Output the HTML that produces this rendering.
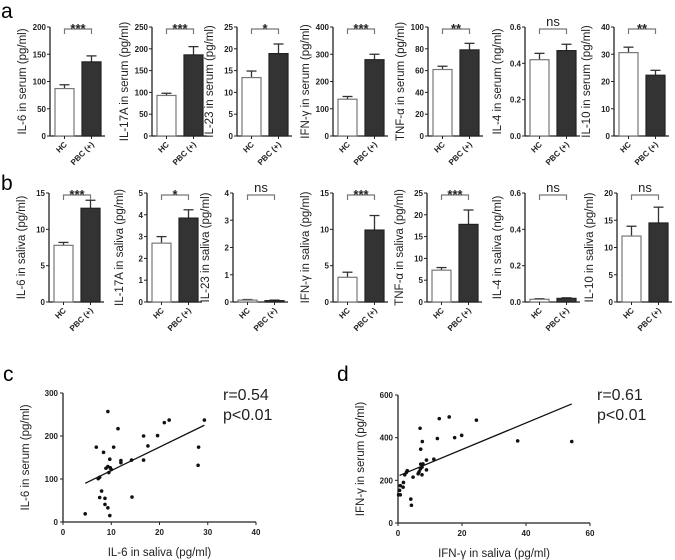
<!DOCTYPE html>
<html><head><meta charset="utf-8">
<style>
html,body{margin:0;padding:0;background:#fff;}
svg{display:block;font-family:"Liberation Sans",Arial,sans-serif;}
.tk{font-size:8px;font-weight:bold;fill:#222;}
.ttl{font-size:11.5px;fill:#222;}
</style></head>
<body>
<svg id="fig" width="675" height="560" viewBox="0 0 675 560">
<text x="1" y="18" font-size="21">a</text>
<text x="1" y="190" font-size="21">b</text>
<text x="3" y="381" font-size="21">c</text>
<text x="337" y="381" font-size="21">d</text>
</svg>
<script>
// ---- bar chart data ----
const groups = ["HC","PBC (+)"];
const serumTitles = ["IL-6 in serum (pg/ml)","IL-17A in serum (pg/ml)","IL-23 in serum (pg/ml)","IFN-γ in serum (pg/ml)","TNF-α in serum (pg/ml)","IL-4 in serum (ng/ml)","IL-10 in serum (pg/ml)"];
const serumMeans = [[87,136],[93,186],[13.4,18.9],[135,280],[61,79],[0.42,0.47],[30.6,22.3]];
const serumErrs = [[7,11],[5,19],[1.5,2.2],[10,20],[3,6],[0.035,0.035],[2,1.8]];
const serumMax = [200,250,25,400,100,0.6,40];
const serumStep = [50,50,5,100,20,0.2,10];
const serumSig = ["***","***","*","***","**","ns","**"];
const salivaTitles = ["IL-6 in saliva (pg/ml)","IL-17A in saliva (pg/ml)","IL-23 in saliva (pg/ml)","IFN-γ in saliva (pg/ml)","TNF-α in saliva (pg/ml)","IL-4 in saliva (ng/ml)","IL-10 in saliva (pg/ml)"];
const salivaMeans = [[7.8,12.9],[2.7,3.85],[0.07,0.05],[3.4,9.9],[7.3,17.8],[0.015,0.02],[12.1,14.5]];
const salivaErrs = [[0.4,1.1],[0.3,0.38],[0.02,0.02],[0.7,2],[0.6,3.3],[0.003,0.003],[1.8,2.9]];
const salivaMax = [15,5,4,15,25,0.6,20];
const salivaStep = [5,1,1,5,5,0.2,5];
const salivaSig = ["***","*","ns","***","***","ns","ns"];
// ---- scatter data ----
const cX = [4.6,7.3,7.6,6.9,8.4,9.3,11.4,10.5,9.7,8.9,9.3,9.5,10.0,9.8,8.0,7.6,8.7,8.7,9.3,9.7,12.0,12.0,14.2,14.3,16.7,16.7,17.6,19.6,21.0,22.0,28.1,28.0,29.3];
const cY = [19,101,104,174,162,257,217,174,146,125,129,115,122,126,72,57,55,41,33,15,143,138,144,58,144,200,177,201,231,237,174,132,237];
const cFit = [[4.6,90],[29.3,225]];
const dX = [0.2,0.7,0.5,0.7,1.6,1.7,4.0,4.2,2.1,2.6,2.9,4.7,6.3,6.6,7.0,7.5,7.1,7.8,7.5,8.9,8.9,7.1,7.6,6.9,11.2,12.3,12.9,16.0,17.7,19.9,24.5,37.4,54.3];
const dY = [132,132,153,175,168,190,112,83,226,237,245,215,231,240,254,262,276,277,226,249,295,346,382,444,299,396,489,497,400,411,482,385,382];
const dFit = [[0.5,223],[54.3,558]];

const NS="http://www.w3.org/2000/svg";
const svg=document.getElementById('fig');
function mk(tag,attrs,parent,text){const e=document.createElementNS(NS,tag);for(const k in attrs)e.setAttribute(k,attrs[k]);if(text!==undefined)e.textContent=text;(parent||svg).appendChild(e);return e;}
function fmt(v,step){return step<1?v.toFixed(1):String(Math.round(v));}

const serumAxes=[50,152,237,333,428,525,614];
const salivaAxes=[49,147,233,333,427,525,617];

function barPanel(ax,top,bot,max,step,title,means,errs,sig,id){
  const g=mk('g',{});
  
  
  const y=v=>bot-(v/max)*(bot-top);
  const ya=mk('line',{x1:ax,y1:top,x2:ax,y2:bot,stroke:'#222','stroke-width':1.3},g);
  
  const xa=mk('line',{x1:ax,y1:bot,x2:ax+55,y2:bot,stroke:'#222','stroke-width':1.3},g);
  
  const n=Math.round(max/step);
  for(let i=0;i<=n;i++){const v=i*step;const yy=y(v);
    mk('line',{x1:ax-3,y1:yy,x2:ax,y2:yy,stroke:'#222','stroke-width':1},g);
    const t=mk('text',{x:ax-4,y:yy+3,'text-anchor':'end',class:'tk'},g,fmt(v,step));
    }
  const tt=mk('text',{x:0,y:0,'text-anchor':'middle',class:'ttl',transform:`translate(${ax-24},${(top+bot)/2}) rotate(-90)`},g,title);
  
  const bx=[ax+5,ax+32],bw=19;
  for(let i=0;i<2;i++){
    const cx=bx[i]+bw/2;
    const top1=y(means[i]), eTop=y(means[i]+errs[i]);
    const el=mk('line',{x1:cx,y1:eTop,x2:cx,y2:top1,stroke:'#333','stroke-width':1.3},g);
    
    mk('line',{x1:cx-5,y1:eTop,x2:cx+5,y2:eTop,stroke:'#333','stroke-width':1.3},g);
    const r=mk('rect',{x:bx[i],y:top1,width:bw,height:bot-top1,fill:i?'#333':'#fff',stroke:i?'#222':'#777','stroke-width':1.2},g);
    
    mk('line',{x1:cx,y1:bot,x2:cx,y2:bot+3,stroke:'#222','stroke-width':1},g);
    const xl=mk('text',{x:0,y:0,'text-anchor':'end',class:'tk',transform:`translate(${cx+3},${bot+9}) rotate(-45)`},g,groups[i]);
    
  }
  const c1=bx[0]+bw/2,c2=bx[1]+bw/2,by=top+2;
  const br=mk('path',{d:`M${c1},${by+5}V${by}H${c2}V${by+5}`,fill:'none',stroke:'#777','stroke-width':1.2},g);
  
  const st=sig==='ns'?mk('text',{x:(c1+c2)/2,y:by-3,'text-anchor':'middle','font-size':13,fill:'#222'},g,sig)
                    :mk('text',{x:(c1+c2)/2,y:by+4,'text-anchor':'middle','font-size':13,'font-weight':'bold',fill:'#222'},g,sig);
  
}
for(let i=0;i<7;i++){
  barPanel(serumAxes[i],27,136,serumMax[i],serumStep[i],serumTitles[i],serumMeans[i],serumErrs[i],serumSig[i],'serum-'+i);
  barPanel(salivaAxes[i],193,302,salivaMax[i],salivaStep[i],salivaTitles[i],salivaMeans[i],salivaErrs[i],salivaSig[i],'saliva-'+i);
}

function scatter(x0,x1,y0,y1,xmax,ymax,xstep,ystep,xs,ys,fit,xt,yt,r,p,tx,id){
  const g=mk('g',{});
  
  
  const sx=v=>x0+v/xmax*(x1-x0), sy=v=>y1-v/ymax*(y1-y0);
  const ya=mk('line',{x1:x0,y1:y0,x2:x0,y2:y1,stroke:'#222','stroke-width':1.3},g);
  
  const xa=mk('line',{x1:x0,y1:y1,x2:x1,y2:y1,stroke:'#222','stroke-width':1.3},g);
  
  for(let v=0;v<=ymax+1e-9;v+=ystep){const yy=sy(v);mk('line',{x1:x0-3,y1:yy,x2:x0,y2:yy,stroke:'#222'},g);
    const t=mk('text',{x:x0-5,y:yy+3,'text-anchor':'end',class:'tk'},g,String(v));}
  for(let v=0;v<=xmax+1e-9;v+=xstep){const xx=sx(v);mk('line',{x1:xx,y1:y1,x2:xx,y2:y1+3,stroke:'#222'},g);
    const t=mk('text',{x:xx,y:y1+13,'text-anchor':'middle',class:'tk'},g,String(v));}
  for(let i=0;i<xs.length;i++){const c=mk('circle',{cx:sx(xs[i]),cy:sy(ys[i]),r:1.8,fill:'#111'},g);
    }
  const l=mk('line',{x1:sx(fit[0][0]),y1:sy(fit[0][1]),x2:sx(fit[1][0]),y2:sy(fit[1][1]),stroke:'#111','stroke-width':1.3},g);
  
  const a=mk('text',{x:(x0+x1)/2,y:y1+34,'text-anchor':'middle',class:'ttl'},g,xt);
  const b=mk('text',{x:0,y:0,'text-anchor':'middle',class:'ttl',transform:`translate(${x0-34},${(y0+y1)/2}) rotate(-90)`},g,yt);
  const rt=mk('text',{x:tx,y:400,'font-size':16,fill:'#222'},g,r);
  const pt=mk('text',{x:tx,y:420,'font-size':16,fill:'#222'},g,p);
}
scatter(63,256,393,522,40,300,10,100,cX,cY,cFit,"IL-6 in saliva (pg/ml)","IL-6 in serum (pg/ml)","r=0.54","p<0.01",223,'c');
scatter(398,590,395,523,60,600,20,200,dX,dY,dFit,"IFN-γ in saliva (pg/ml)","IFN-γ in serum (pg/ml)","r=0.61","p<0.01",597,'d');
</script>
</body></html>
